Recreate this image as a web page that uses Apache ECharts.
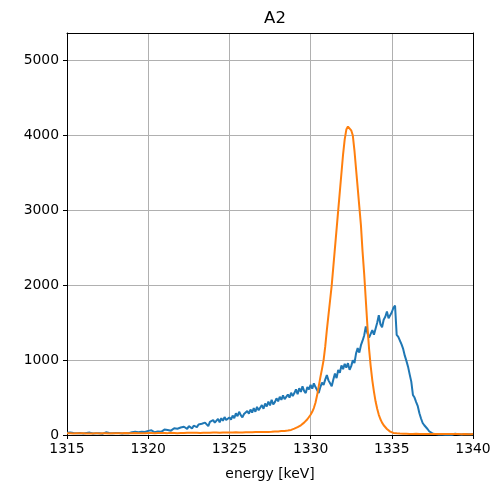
<!DOCTYPE html>
<html>
<head>
<meta charset="utf-8">
<script src="https://cdn.jsdelivr.net/npm/echarts@6/dist/echarts.min.js"></script>
<style>
  html, body { margin: 0; padding: 0; background: #ffffff; }
  #chart { width: 491px; height: 487px; }
</style>
</head>
<body>
<div id="chart"></div>
<script>
// Energy binning of the spectra (keV)
const binStart = 1315.0;
const binWidth = 0.1;

// Measured spectrum A2 (counts per 0.1 keV bin, 1315.0 ... 1340.0)
const measuredCounts = [
  30,22,34,18,26,30,24,14,26,36, 20,28,26,16,32,26,20,38,22,27,
  24,32,18,28,36,24,26,32,22,18, 28,38,26,30,20,40,28,34,24,30,
  36,28,42,32,38,26,44,34,40,46,
  55,38,62,45,36,58,48,66,42,60,
  72,54,68,82,58,76,90,64,84,96,
  100,78,110,92,82,118,100,88,125,104,
  105,140,118,150,128,165,140,118,175,150,
  200,165,190,215,170,225,190,240,200,185,
  235,205,260,225,290,250,310,265,235,280,
  255,320,285,340,300,360,310,375,330,355,
  400,350,420,380,445,395,470,410,440,490,
  450,510,470,530,480,455,540,500,565,520,
  560,610,545,625,575,650,590,560,640,610,
  670,620,690,640,600,560,640,700,670,740,
  800,730,690,650,740,820,760,870,830,930,
  880,950,900,960,870,920,1000,960,1090,1160,
  1100,1200,1260,1330,1450,1360,1300,1350,1400,1340,
  1420,1500,1600,1480,1440,1540,1580,1650,1560,1600,
  1640,1700,1730,1337,1310,1290,1210,1150,1060,990,
  913,810,713,535,500,440,385,290,220,160,
  130,105,80,50,30,22,15,12,10,8,
  10,6,12,4,9,5,11,4,8,16, 5,9,18,6,8,14,5,9,7,10, 5
];

// Reference line profile (counts per 0.1 keV bin, 1315.0 ... 1340.0)
const referenceCounts = [
  22,20,24,21,19,23,22,20,25,21, 23,22,19,24,21,22,20,23,25,22,
  21,24,22,20,23,25,21,22,24,23, 22,25,23,21,24,22,26,23,25,22,
  24,23,26,22,25,24,23,27,24,25,
  26,24,27,25,23,26,28,25,27,24, 26,28,25,27,29,26,28,27,25,28,
  27,29,26,28,30,27,29,28,30,27, 29,31,28,30,29,32,30,28,31,30,
  32,30,33,31,29,32,34,31,33,32,
  33,35,32,34,36,33,35,37,34,36, 38,35,37,39,36,38,40,37,39,41,
  40,42,39,43,41,44,42,45,47,46,
  48,50,52,51,55,57,60,63,68,74,
  85,95,105,115,130,145,165,185,210,240,
  270,310,360,430,530,650,770,880,1000,1180,
  1400,1600,1800,2000,2250,2500,2750,3000,3250,3500,
  3750,3950,4080,4120,4140,4070,4000,3800,3550,3300,
  3050,2800,2450,2150,1800,1450,1150,920,730,580,
  450,350,270,210,165,130,105,80,60,45,
  35,28,24,22,20,19,18,17,16,17,
  16,15,16,14,15,16,14,15,13,15, 14,15,13,14,15,13,14,12,14,13,
  14,13,12,14,13,12,13,14,12,13, 12,13,12,11,13,12,12,11,12,11, 12
];

// Axis ticks
const xTicks = [1315, 1320, 1325, 1330, 1335, 1340];
const yTicks = [0, 1000, 2000, 3000, 4000, 5000];
const yMax = 5370;

function toPoints(counts) {
  return counts.map((c, i) => [+(binStart + i * binWidth).toFixed(1), c]);
}

const font = 'DejaVu Sans';
const plain = v => String(v);
const chart = echarts.init(document.getElementById('chart'), null, { renderer: 'canvas' });

chart.setOption({
  animation: false,
  backgroundColor: '#ffffff',
  title: {
    text: 'A2',
    left: 270,
    textAlign: 'center',
    top: 5,
    textStyle: { fontFamily: font, fontSize: 16.5, fontWeight: 'normal', color: '#000' }
  },
  grid: { left: 67, right: 18, top: 33, bottom: 52, containLabel: false, outerBoundsMode: 'none' },
  xAxis: [{
    type: 'value',
    min: 1315, max: 1340, interval: 5,
    name: 'energy [keV]',
    nameLocation: 'middle',
    nameGap: 32,
    nameTextStyle: { fontFamily: font, fontSize: 13.9, color: '#000' },
    axisLine: { show: true, onZero: false, lineStyle: { color: '#000', width: 1 } },
    axisTick: { show: true, length: 4, lineStyle: { color: '#000', width: 1 }, customValues: xTicks },
    axisLabel: { fontFamily: font, fontSize: 13.9, color: '#000', margin: 7, customValues: xTicks, formatter: plain },
    splitLine: { show: true, lineStyle: { color: '#b0b0b0', width: 1 } }
  }, {
    type: 'value', position: 'top',
    min: 1315, max: 1340,
    axisLine: { show: true, onZero: false, lineStyle: { color: '#000', width: 1 } },
    axisTick: { show: false }, axisLabel: { show: false }, splitLine: { show: false }
  }],
  yAxis: [{
    type: 'value',
    min: 0, max: yMax, interval: 1000,
    axisLine: { show: true, onZero: false, lineStyle: { color: '#000', width: 1 } },
    axisTick: { show: true, length: 4, lineStyle: { color: '#000', width: 1 }, customValues: yTicks },
    axisLabel: { fontFamily: font, fontSize: 13.9, color: '#000', margin: 8, customValues: yTicks, formatter: plain },
    splitLine: { show: true, lineStyle: { color: '#b0b0b0', width: 1 } }
  }, {
    type: 'value', position: 'right',
    min: 0, max: yMax,
    axisLine: { show: true, onZero: false, lineStyle: { color: '#000', width: 1 } },
    axisTick: { show: false }, axisLabel: { show: false }, splitLine: { show: false }
  }],
  series: [{
    name: 'measured',
    type: 'line',
    data: toPoints(measuredCounts),
    showSymbol: false,
    lineStyle: { color: '#1f77b4', width: 2 },
    itemStyle: { color: '#1f77b4' },
    z: 2
  }, {
    name: 'reference',
    type: 'line',
    data: toPoints(referenceCounts),
    showSymbol: false,
    lineStyle: { color: '#ff7f0e', width: 2 },
    itemStyle: { color: '#ff7f0e' },
    z: 3
  }]
});
</script>
</body>
</html>
